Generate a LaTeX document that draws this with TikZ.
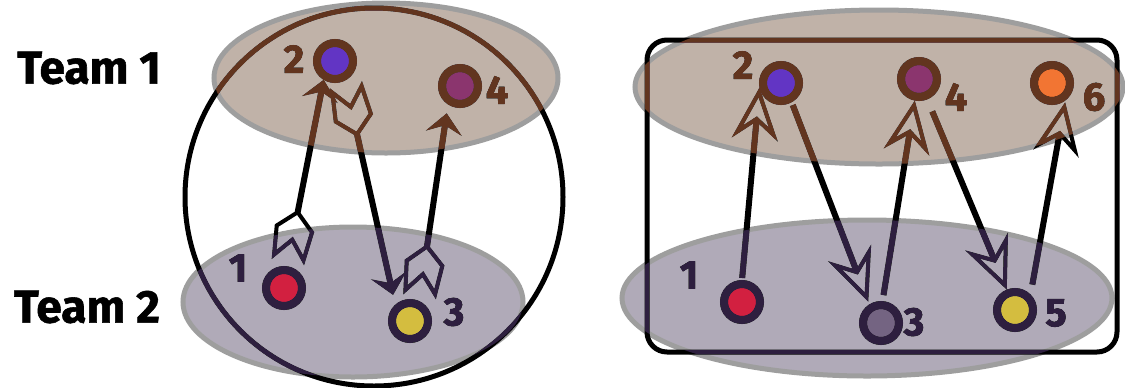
\documentclass[tikz,border=0pt]{standalone}
\usepackage{fontspec}
\newfontfamily\teamfont{Fira Sans}[BoldFeatures={FakeBold=1.2}]
\usetikzlibrary{arrows.meta}

\definecolor{topfill}{HTML}{C0B2A8}
\definecolor{botfill}{HTML}{B0AAB8}
\definecolor{topink}{HTML}{62351F}
\definecolor{botink}{HTML}{2E1F3F}
\definecolor{rim}{HTML}{9E9E9E}
\definecolor{cPurple}{HTML}{5B33C4}
\definecolor{cMagenta}{HTML}{8B2F6E}
\definecolor{cOrange}{HTML}{F27533}
\definecolor{cRed}{HTML}{D22040}
\definecolor{cYellow}{HTML}{D4BD3C}
\definecolor{cSlate}{HTML}{746482}

% the four team zones: #1 = style of the upper ones, #2 = style of the lower ones
\newcommand\teamzones[2]{%
  \path[#1] (386,78)  ellipse [x radius=172, y radius=75];
  \path[#1] (879,87)  ellipse [x radius=244, y radius=77];
  \path[#2] (353,302) ellipse [x radius=170, y radius=75];
  \path[#2] (867,298) ellipse [x radius=245, y radius=78];
}

\tikzset{
  zone top/.style={fill=topfill, draw=rim, line width=2.5pt},
  zone bottom/.style={fill=botfill, draw=rim, line width=2.5pt},
  tint top/.style={fill=topink},
  tint bottom/.style={fill=botink},
  player/.style={circle, draw=black, line width=4pt, minimum size=18pt, inner sep=0pt},
  tag/.style={font=\teamfont\bfseries\fontsize{20}{20}\selectfont, inner sep=0pt},
  team/.style={font=\teamfont\bfseries\fontsize{23}{23}\selectfont, inner sep=0pt},
  frame/.style={draw=black, line width=2.5pt},
  pass/.style={line width=3pt, -{Stealth[length=10pt, width=18pt, inset=4pt]}},
  lob/.style={line width=3pt, -{Stealth[open, length=26pt, width=23pt, inset=9pt, line width=2pt]}},
  feather/.style={draw=black, fill=none, line width=2pt, line join=miter, -},
  pics/fletch/.style={code={
    \draw[feather] (55,0) -- (38,18) -- (9,15) -- (27,0) -- (9,-15) -- (38,-18) -- cycle;
  }},
}

\begin{document}
\begin{tikzpicture}[x=0.5pt, y=-0.5pt]
\useasboundingbox (0,0) rectangle (1125,387);

\teamzones{zone top}{zone bottom}

% team captions
\node[team] (t1) at (89,68) {Team 1};
\node[team] (t2) at (87,307) {Team 2};

% outlines of the two groupings
\draw[frame] (374,197) circle [radius=189];
\draw[frame, rounded corners=10pt] (647,40) rectangle (1117,352);

% left group of players
\node[player, fill=cPurple]  (a2) at (335,61) {};
\node[player, fill=cMagenta] (a4) at (460,86) {};
\node[player, fill=cRed]     (a1) at (284,288) {};
\node[player, fill=cYellow]  (a3) at (410,321) {};
\node[tag] (a2l) at (294,59) {2};
\node[tag] (a4l) at (497,90) {4};
\node[tag] (a1l) at (238,268) {1};
\node[tag] (a3l) at (454,312) {3};

% right group of players
\node[player, fill=cPurple]  (b2) at (781,83) {};
\node[player, fill=cMagenta] (b4) at (919,79) {};
\node[player, fill=cOrange]  (b6) at (1052,83) {};
\node[player, fill=cRed]     (b1) at (742,302) {};
\node[player, fill=cSlate]   (b3) at (881,323) {};
\node[player, fill=cYellow]  (b5) at (1015,310) {};
\node[tag] (b2l) at (743,65) {2};
\node[tag] (b4l) at (956,97) {4};
\node[tag] (b6l) at (1094,97) {6};
\node[tag] (b1l) at (689,275) {1};
\node[tag] (b3l) at (914,322) {3};
\node[tag] (b5l) at (1056,313) {5};

% fletched passes, left
\draw[pass, shorten <=27.5pt] (a1.82) -- (a2.239);
\path (a1.82) -- (a2.239) pic[pos=0, sloped, allow upside down] {fletch};
\draw[pass, shorten <=27.5pt, shorten >=5pt] (a2.-63) -- (a3.132);
\path (a2.-63) -- (a3.132) pic[pos=0, sloped, allow upside down] {fletch};
\draw[pass, shorten <=27.5pt, shorten >=4.5pt] (a3.66) -- (a4.237);
\path (a3.66) -- (a4.237) pic[pos=0, sloped, allow upside down] {fletch};

% zig-zag passes, right
\draw[lob, shorten <=1pt] (b1.90) -- (b2.192);
\draw[lob, shorten <=1.5pt, shorten >=1.5pt] (b2.-61) -- (b3.122);
\draw[lob, shorten <=3pt] (b3.86) -- (b4.259);
\draw[lob, shorten <=6.5pt] (b4.-68) -- (b5.112);
\draw[lob, shorten <=5pt, shorten >=1pt] (b5.45) -- (b6.-52);

% tint everything dark inside the zones
\begin{scope}[blend mode=lighten]
  \teamzones{tint top}{tint bottom}
\end{scope}
\end{tikzpicture}
\end{document}
